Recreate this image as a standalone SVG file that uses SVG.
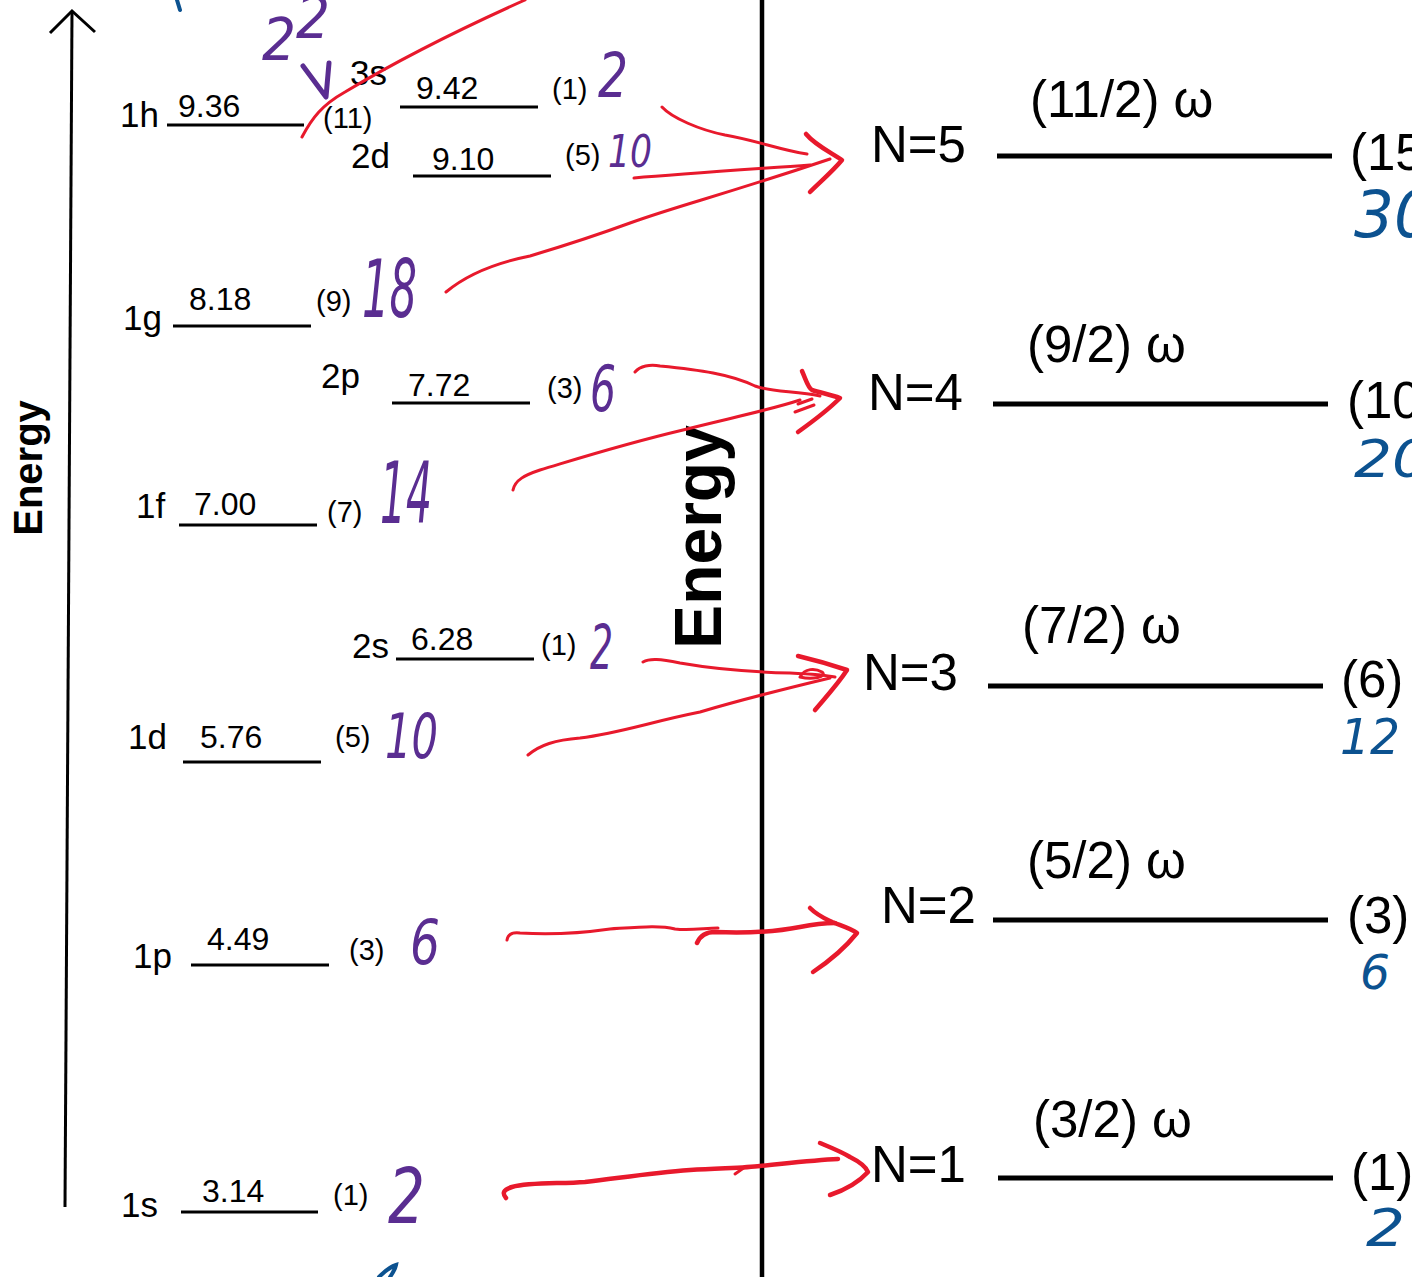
<svg xmlns="http://www.w3.org/2000/svg" width="1412" height="1277" viewBox="0 0 1412 1277">
<style>
.lbl{font-family:"Liberation Sans",Arial,sans-serif;font-size:35px;fill:#000}
.val{font-family:"Liberation Sans",Arial,sans-serif;font-size:32px;fill:#000}
.deg{font-family:"Liberation Sans",Arial,sans-serif;font-size:29px;fill:#000}
.big{font-family:"Liberation Sans",Arial,sans-serif;font-size:51px;fill:#000}
.ax{font-family:"Liberation Sans",Arial,sans-serif;font-weight:bold;fill:#000}
.lvl{stroke:#000;stroke-width:3;fill:none}
.rl{stroke:#000;stroke-width:5;fill:none}
.hp{font-family:"DejaVu Sans",sans-serif;font-style:italic;fill:#5a2d91}
.hb{font-family:"DejaVu Sans",sans-serif;font-style:italic;fill:#0c5290}
.red{stroke:#e8192c;stroke-width:3;fill:none;stroke-linecap:round;stroke-linejoin:round}
.redh{stroke:#e8192c;stroke-width:4.5;fill:none;stroke-linecap:round;stroke-linejoin:round}
.bm{stroke:#0c5290;stroke-width:4;fill:none;stroke-linecap:round}
</style>
<rect width="1412" height="1277" fill="#fff"/>

<g id="axis-left">
<path d="M72,12 L65,1207" stroke="#000" stroke-width="3" fill="none"/>
<path d="M50,33 L72,11 L95,32" stroke="#000" stroke-width="3" fill="none"/>
<text class="ax" font-size="40" transform="translate(42,468) rotate(-90)" text-anchor="middle">Energy</text>
</g>

<g id="divider">
<path d="M762,0 L762,1277" stroke="#000" stroke-width="4.5" fill="none"/>
<text class="ax" font-size="66" transform="translate(721,537) rotate(-90)" text-anchor="middle">Energy</text>
</g>

<g id="level-1h">
<text class="lbl" x="120" y="127">1h</text>
<path class="lvl" d="M167,125 H304"/>
<text class="val" x="178" y="117">9.36</text>
<text class="deg" x="323" y="128">(11)</text>
</g>
<g id="level-3s">
<text class="lbl" x="350" y="85">3s</text>
<path class="lvl" d="M400,107 H538"/>
<text class="val" x="416" y="99">9.42</text>
<text class="deg" x="552" y="99">(1)</text>
</g>
<g id="level-2d">
<text class="lbl" x="351" y="168">2d</text>
<path class="lvl" d="M413,176 H551"/>
<text class="val" x="432" y="170">9.10</text>
<text class="deg" x="565" y="165">(5)</text>
</g>
<g id="level-1g">
<text class="lbl" x="123" y="330">1g</text>
<path class="lvl" d="M173,326 H311"/>
<text class="val" x="189" y="310">8.18</text>
<text class="deg" x="316" y="311">(9)</text>
</g>
<g id="level-2p">
<text class="lbl" x="321" y="388">2p</text>
<path class="lvl" d="M392,403 H530"/>
<text class="val" x="408" y="396">7.72</text>
<text class="deg" x="547" y="398">(3)</text>
</g>
<g id="level-1f">
<text class="lbl" x="136" y="518">1f</text>
<path class="lvl" d="M179,525 H317"/>
<text class="val" x="194" y="515">7.00</text>
<text class="deg" x="327" y="522">(7)</text>
</g>
<g id="level-2s">
<text class="lbl" x="352" y="658">2s</text>
<path class="lvl" d="M396,659 H534"/>
<text class="val" x="411" y="650">6.28</text>
<text class="deg" x="541" y="655">(1)</text>
</g>
<g id="level-1d">
<text class="lbl" x="128" y="749">1d</text>
<path class="lvl" d="M183,762 H321"/>
<text class="val" x="200" y="748">5.76</text>
<text class="deg" x="335" y="747">(5)</text>
</g>
<g id="level-1p">
<text class="lbl" x="133" y="968">1p</text>
<path class="lvl" d="M191,965 H329"/>
<text class="val" x="207" y="950">4.49</text>
<text class="deg" x="349" y="960">(3)</text>
</g>
<g id="level-1s">
<text class="lbl" x="121" y="1217">1s</text>
<path class="lvl" d="M181,1212 H318"/>
<text class="val" x="202" y="1202">3.14</text>
<text class="deg" x="333" y="1205">(1)</text>
</g>

<g id="shell-N5">
<text class="big" x="871" y="162">N=5</text>
<path class="rl" d="M997,156 H1332"/>
<text class="big" x="1030" y="117">(11/2) ω</text>
<text class="big" x="1350" y="170">(15</text>
</g>
<g id="shell-N4">
<text class="big" x="868" y="410">N=4</text>
<path class="rl" d="M993,404 H1328"/>
<text class="big" x="1027" y="362">(9/2) ω</text>
<text class="big" x="1347" y="418">(10</text>
</g>
<g id="shell-N3">
<text class="big" x="863" y="690">N=3</text>
<path class="rl" d="M988,686 H1323"/>
<text class="big" x="1022" y="643">(7/2) ω</text>
<text class="big" x="1341" y="697">(6)</text>
</g>
<g id="shell-N2">
<text class="big" x="881" y="923">N=2</text>
<path class="rl" d="M993,920 H1328"/>
<text class="big" x="1027" y="878">(5/2) ω</text>
<text class="big" x="1347" y="933">(3)</text>
</g>
<g id="shell-N1">
<text class="big" x="871" y="1182">N=1</text>
<path class="rl" d="M998,1178 H1333"/>
<text class="big" x="1033" y="1137">(3/2) ω</text>
<text class="big" x="1351" y="1190">(1)</text>
</g>

<g id="handwritten-purple">
<text class="hp" x="262" y="60" font-size="58" textLength="68" lengthAdjust="spacingAndGlyphs">2<tspan dy="-22">2</tspan></text>
<path d="M303,66 L326,97 L329,63" stroke="#5a2d91" stroke-width="5" fill="none" stroke-linecap="round" stroke-linejoin="round"/>
<text class="hp" x="598" y="97" font-size="62" textLength="30" lengthAdjust="spacingAndGlyphs">2</text>
<text class="hp" x="608" y="167" font-size="45" textLength="44" lengthAdjust="spacingAndGlyphs">10</text>
<text class="hp" x="362" y="317" font-size="80" textLength="55" lengthAdjust="spacingAndGlyphs">18</text>
<text class="hp" x="590" y="411" font-size="64" textLength="26" lengthAdjust="spacingAndGlyphs">6</text>
<text class="hp" x="380" y="523" font-size="86" textLength="52" lengthAdjust="spacingAndGlyphs">14</text>
<text class="hp" x="590" y="669" font-size="62" textLength="23" lengthAdjust="spacingAndGlyphs">2</text>
<text class="hp" x="385" y="758" font-size="62" textLength="53" lengthAdjust="spacingAndGlyphs">10</text>
<text class="hp" x="410" y="964" font-size="62" textLength="30" lengthAdjust="spacingAndGlyphs">6</text>
<text class="hp" x="388" y="1223" font-size="76" textLength="37" lengthAdjust="spacingAndGlyphs">2</text>
</g>

<g id="handwritten-blue">
<text class="hb" x="1354" y="237" font-size="64" textLength="80" lengthAdjust="spacingAndGlyphs">30</text>
<text class="hb" x="1354" y="477" font-size="52" textLength="76" lengthAdjust="spacingAndGlyphs">20</text>
<text class="hb" x="1340" y="754" font-size="50" textLength="60" lengthAdjust="spacingAndGlyphs">12</text>
<text class="hb" x="1360" y="989" font-size="48" textLength="30" lengthAdjust="spacingAndGlyphs">6</text>
<text class="hb" x="1366" y="1246" font-size="52" textLength="39" lengthAdjust="spacingAndGlyphs">2</text>
<path class="bm" d="M177,0 L180,10"/>
<path class="bm" d="M379,1277 C384,1272 390,1267 396,1265 C395,1270 392,1274 390,1277"/>
</g>

<g id="connectors">
<path class="red" d="M302,137 C312,118 322,105 345,92 C390,65 440,38 525,0"/>
<path class="red" d="M662,107 C672,118 700,130 725,135 C755,140 780,150 807,154"/>
<path class="red" d="M634,178 C680,174 740,170 810,165"/>
<path class="red" d="M446,292 C470,272 500,262 530,256 C570,244 600,234 630,223 C680,205 720,196 830,159"/>
<path class="redh" d="M806,134 C815,145 830,152 842,160 C832,172 820,182 810,192"/>
<path class="red" d="M635,372 C640,366 650,364 660,366 C700,370 730,374 755,386 C770,392 795,391 820,396"/>
<path class="red" d="M513,490 C515,480 525,475 540,470 C580,458 620,445 683,430 C730,418 770,410 800,400"/>
<path class="red" d="M795,412 L814,405 M798,404 L812,399"/>
<path class="redh" d="M802,371 C806,380 808,388 812,390 C822,393 832,395 840,398 C828,410 812,422 798,432"/>
<path class="red" d="M643,662 C650,658 660,659 680,663 C720,670 750,672 790,673 C810,674 825,675 835,677"/>
<path class="red" d="M528,755 C540,745 555,740 580,738 C620,733 650,722 700,712 C740,700 780,690 830,678"/>
<path class="red" d="M800,677 C805,668 815,668 822,672 C828,677 812,680 800,677"/>
<path class="redh" d="M798,656 C815,660 832,665 847,670 C838,684 825,698 815,710"/>
<path class="red" d="M507,940 C508,934 512,932 520,933 C550,935 575,934 610,929 C640,927 660,925 675,929 C690,931 705,928 718,928"/>
<path class="redh" d="M697,943 C700,936 705,932 715,932 C740,933 770,933 800,927 C815,924 825,923 835,923"/>
<path class="redh" d="M810,908 C818,916 828,920 832,922 C842,926 852,929 857,933 C845,948 828,962 813,972"/>
<path class="redh" d="M506,1198 C502,1193 503,1190 512,1187 C530,1182 560,1184 585,1182 C620,1178 650,1173 690,1170 C720,1168 745,1168 760,1166 C790,1163 815,1160 838,1159"/>
<path class="red" d="M735,1174 L745,1167"/>
<path class="redh" d="M820,1143 C832,1148 842,1152 850,1157 C860,1162 866,1167 868,1172 C858,1183 845,1190 830,1195"/>
</g>
</svg>
